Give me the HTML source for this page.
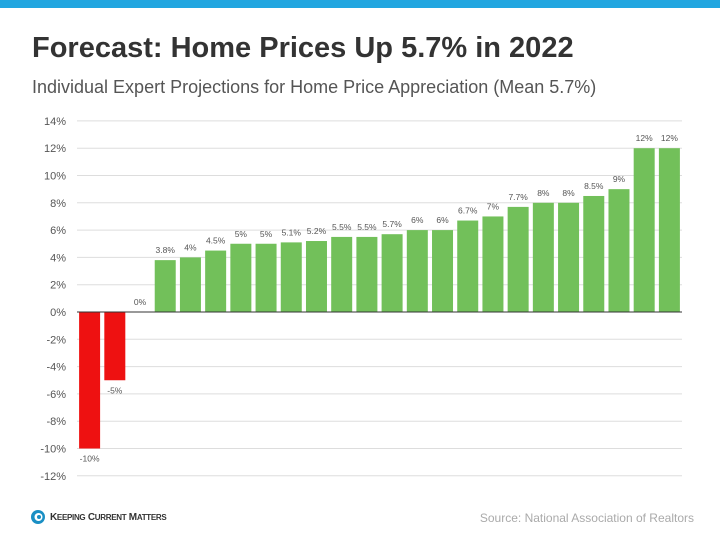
<!DOCTYPE html>
<html><head><meta charset="utf-8"><style>
body{margin:0;width:720px;height:540px;background:#fff;font-family:"Liberation Sans",sans-serif;overflow:hidden;position:relative}
.abs{position:absolute}
</style></head><body>
<div class="abs" style="left:0;top:0;width:720px;height:8px;background:#22a6e0"></div>
<div class="abs" style="left:32px;top:32px;font-size:29px;font-weight:bold;color:#333">Forecast: Home Prices Up 5.7% in 2022</div>
<div class="abs" style="left:32px;top:77px;font-size:18px;color:#555">Individual Expert Projections for Home Price Appreciation (Mean 5.7%)</div>
<svg class="abs" style="left:0;top:0" width="720" height="540" id="chart"></svg>
<div class="abs" style="left:30px;top:509px;display:flex;align-items:center">
<svg width="16" height="16"><circle cx="8" cy="8" r="7" fill="#1a8fc4"/><circle cx="8.5" cy="8" r="4" fill="#fff"/><circle cx="9" cy="8" r="2" fill="#1a8fc4"/></svg>
<span style="margin-left:4px;font-size:10px;font-weight:bold;color:#333;letter-spacing:-0.3px">K<span style="font-size:8px">EEPING</span> C<span style="font-size:8px">URRENT</span> M<span style="font-size:8px">ATTERS</span></span></div>
<div class="abs" style="right:26px;top:511px;font-size:12px;color:#aaa">Source: National Association of Realtors</div>
<script>
const values=[-10,-5,0,3.8,4,4.5,5,5,5.1,5.2,5.5,5.5,5.7,6,6,6.7,7,7.7,8,8,8.5,9,12,12];
const labels=["-10%","-5%","0%","3.8%","4%","4.5%","5%","5%","5.1%","5.2%","5.5%","5.5%","5.7%","6%","6%","6.7%","7%","7.7%","8%","8%","8.5%","9%","12%","12%"];
const ticks=[14,12,10,8,6,4,2,0,-2,-4,-6,-8,-10,-12];
const svg=document.getElementById('chart');const NS='http://www.w3.org/2000/svg';
const x0=77,x1=682,y=v=>312-v*13.65,band=(x1-x0)/values.length,bw=21;
function mk(t,a){const e=document.createElementNS(NS,t);for(const k in a)e.setAttribute(k,a[k]);svg.appendChild(e);return e;}
ticks.forEach(t=>{
 const l=mk('line',{x1:x0,x2:x1,y1:y(t),y2:y(t),stroke:'#ddd','stroke-width':1});
 
 
 const tx=mk('text',{x:66,y:y(t)+4,'text-anchor':'end','font-size':11,fill:'#555'});
 tx.textContent=t+'%';
 
 
});
values.forEach((v,i)=>{
 const bx=x0+i*band+(band-bw)/2;
 const top=Math.min(y(v),y(0)),h=Math.abs(y(v)-y(0));
 const r=mk('rect',{x:bx,y:top,width:bw,height:h,fill:v<0?'#ee1111':'#72c05a'});
 
 
 const ly=v<0?y(v)+13:y(v)-7;
 const t=mk('text',{x:bx+bw/2,y:ly,'text-anchor':'middle','font-size':8.5,fill:'#555'});
 t.textContent=labels[i];
 
 
});
const z=mk('line',{x1:x0,x2:x1,y1:y(0),y2:y(0),stroke:'#333','stroke-width':1});


</script>
</body></html>
